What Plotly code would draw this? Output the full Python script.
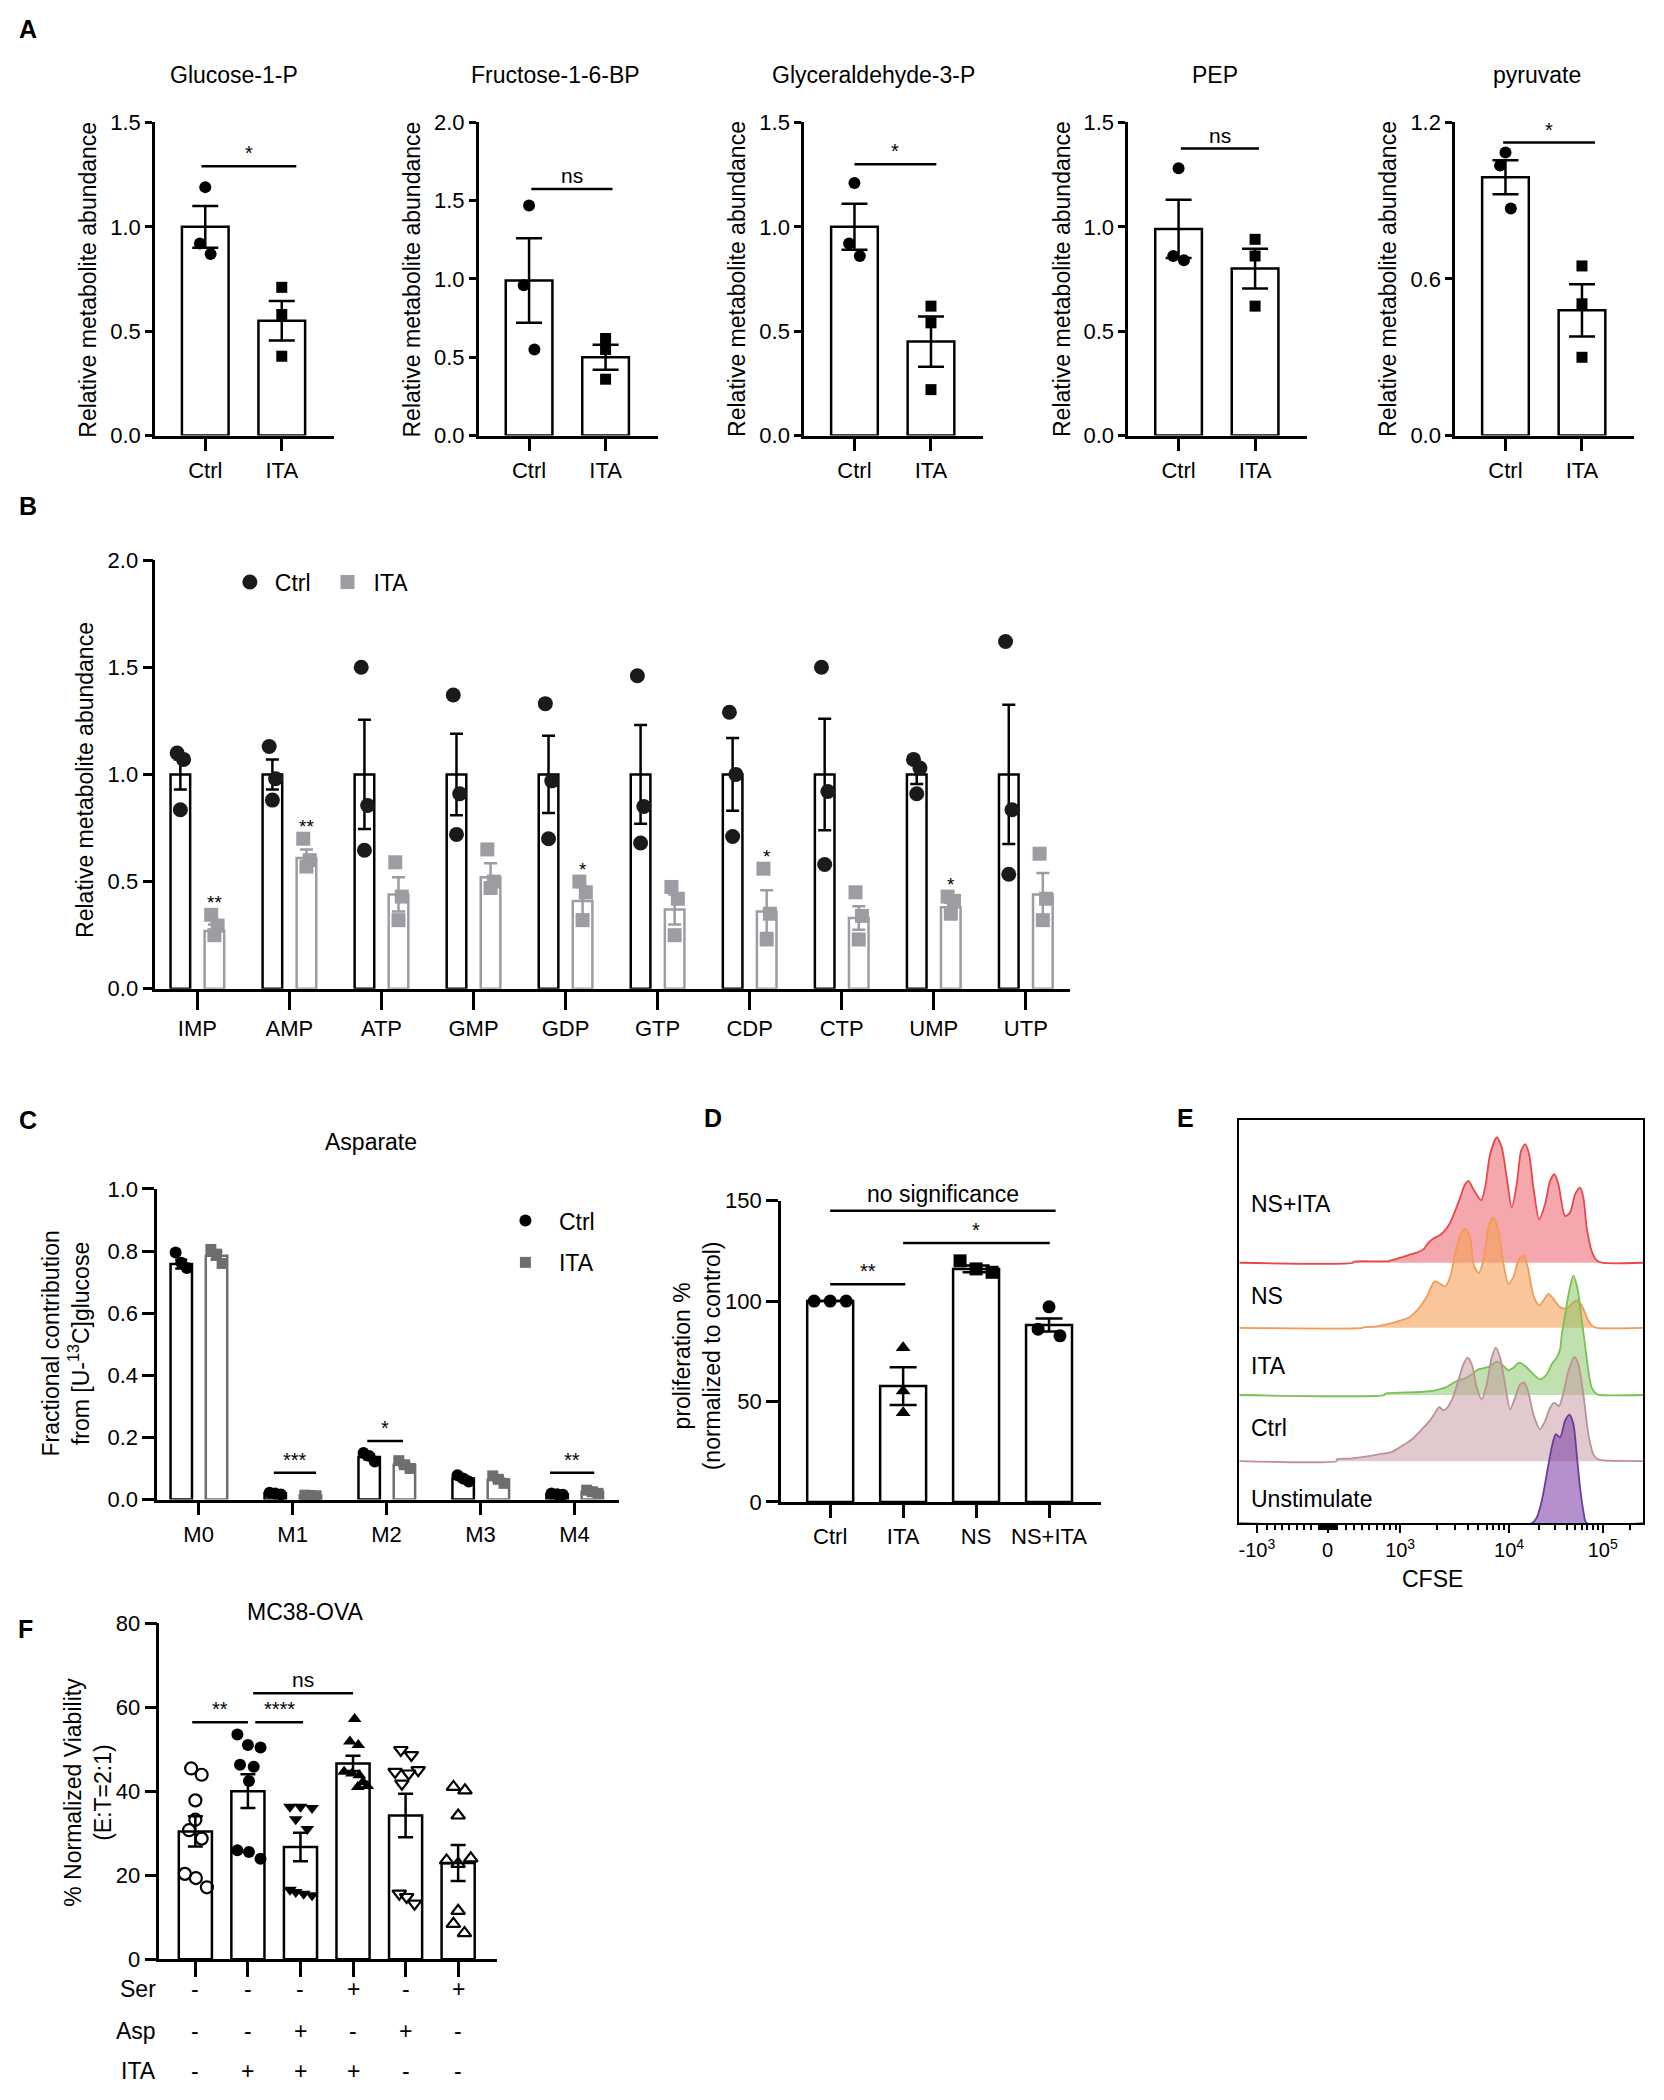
import plotly.graph_objects as go

# page is 1664x2100; browser body keeps its default 8px margin, so the figure is 1648x2084 at (8,8)
PW, PH = 1664, 2100
OFF = 8
W, H = PW - 2 * OFF, PH - 2 * OFF
# vertical compensation for the capture (observed y = CAP_S * page y + CAP_B)
CAP_S, CAP_B = 0.986, 13.9
FONT = "Arial, 'Liberation Sans', Helvetica, sans-serif"
BLACK = "black"

# ---------------- Panel A data ----------------
A_titles = ["Glucose-1-P", "Fructose-1-6-BP", "Glyceraldehyde-3-P", "PEP", "pyruvate"]
A_groups = ["Ctrl", "ITA"]
A_ctrl_mean = [1.00, 0.99, 1.00, 0.99, 0.99]
A_ctrl_sem = [0.10, 0.27, 0.11, 0.14, 0.065]
A_ita_mean = [0.55, 0.50, 0.45, 0.80, 0.48]
A_ita_sem = [0.095, 0.08, 0.12, 0.095, 0.10]
A_ctrl_pts = [[1.19, 0.92, 0.87], [1.47, 0.96, 0.55], [1.21, 0.92, 0.86], [1.28, 0.86, 0.84], [1.085, 1.035, 0.87]]
A_ita_pts = [[0.71, 0.58, 0.38], [0.62, 0.55, 0.36], [0.62, 0.54, 0.22], [0.94, 0.86, 0.62], [0.65, 0.505, 0.30]]
A_ymax = [1.5, 2.0, 1.5, 1.5, 1.2]
A_dtick = [0.5, 0.5, 0.5, 0.5, 0.6]
A_sig_text = ["*", "ns", "*", "ns", "*"]
A_sig_y = [1.29, 1.575, 1.30, 1.375, 1.123]
A_sig_x0 = [-0.05, 0.03, 0.0, 0.03, -0.03]
A_sig_x1 = [1.19, 1.09, 1.07, 1.05, 1.17]

# ---------------- Panel B data ----------------
B_cats = ["IMP", "AMP", "ATP", "GMP", "GDP", "GTP", "CDP", "CTP", "UMP", "UTP"]
B_ctrl_mean = [1.0, 1.0, 1.0, 1.0, 1.0, 1.0, 1.0, 1.0, 1.0, 1.0]
B_ctrl_sem = [0.07, 0.07, 0.255, 0.19, 0.18, 0.23, 0.17, 0.26, 0.045, 0.325]
B_ctrl_pts = [[1.10, 1.07, 0.835], [1.13, 0.98, 0.88], [1.50, 0.855, 0.646], [1.37, 0.91, 0.72],
              [1.33, 0.97, 0.70], [1.46, 0.85, 0.68], [1.29, 1.00, 0.71], [1.50, 0.92, 0.58],
              [1.07, 1.03, 0.91], [1.62, 0.835, 0.534]]
B_ita_mean = [0.27, 0.61, 0.44, 0.52, 0.41, 0.37, 0.36, 0.33, 0.38, 0.44]
B_ita_sem = [0.03, 0.04, 0.08, 0.065, 0.065, 0.07, 0.10, 0.055, 0.02, 0.10]
B_ita_pts = [[0.345, 0.295, 0.25], [0.70, 0.60, 0.57], [0.59, 0.43, 0.32], [0.65, 0.50, 0.47],
             [0.50, 0.45, 0.32], [0.475, 0.42, 0.25], [0.56, 0.35, 0.23], [0.45, 0.34, 0.23],
             [0.43, 0.41, 0.35], [0.63, 0.42, 0.32]]
B_sig = ["**", "**", "", "", "*", "", "*", "", "*", ""]

# ---------------- Panel C data ----------------
C_title = "Asparate"
C_cats = ["M0", "M1", "M2", "M3", "M4"]
C_ctrl_mean = [0.758, 0.019, 0.137, 0.068, 0.017]
C_ctrl_sem = [0.014, 0.002, 0.008, 0.006, 0.001]
C_ctrl_pts = [[0.795, 0.762, 0.745], [0.022, 0.019, 0.016], [0.150, 0.140, 0.122],
              [0.078, 0.068, 0.058], [0.019, 0.017, 0.015]]
C_ita_mean = [0.785, 0.013, 0.112, 0.064, 0.025]
C_ita_sem = [0.013, 0.001, 0.007, 0.007, 0.003]
C_ita_pts = [[0.805, 0.790, 0.760], [0.014, 0.013, 0.012], [0.125, 0.112, 0.100],
             [0.076, 0.065, 0.052], [0.030, 0.025, 0.020]]
C_sig_cat = [1, 2, 4]
C_sig_text = ["***", "*", "**"]
C_sig_y = [0.086, 0.188, 0.086]
C_sig_dx0 = [-0.20, -0.205, -0.26]
C_sig_dx1 = [0.25, 0.175, 0.21]

# ---------------- Panel D data ----------------
D_cats = ["Ctrl", "ITA", "NS", "NS+ITA"]
D_mean = [100.0, 57.7, 116.0, 88.1]
D_sem = [0.0, 9.4, 1.7, 3.2]
D_pts = [[100, 100, 100], [76.8, 55.2, 44.4], [120.0, 116.0, 114.3], [97.1, 86.0, 82.7]]
D_symbols = ["circle", "triangle-up", "square", "circle"]
D_jit = [[-0.22, 0.0, 0.22], [0.0, 0.0, 0.0], [-0.22, 0.0, 0.22], [0.0, -0.15, 0.15]]
D_sig_x0 = [0.0, 1.0, 0.0]
D_sig_x1 = [3.09, 3.01, 1.03]
D_sig_y = [145.0, 128.9, 108.4]
D_sig_text = ["no significance", "*", "**"]

# ---------------- Panel E data (flow histograms, display channel 0-1000) ----------------
E_labels = ["NS+ITA", "NS", "ITA", "Ctrl", "Unstimulate"]
E_base = [260, 195, 128, 62, 0]
E_ch_nsita = [0, 282, 283, 369.6, 398.5, 419.1, 439.8, 456.3, 468.6, 481, 497.5, 511.6, 522.3, 534.7, 547,
              559.4, 567.7, 580, 599, 608.9, 621.3, 637.8, 650.2, 662.5, 674.9, 687.3, 698, 707.9, 717.8,
              728.5, 742.6, 757.4, 769.8, 780.5, 790.4, 806.9, 819.3, 831.7, 844.1, 852.3, 860.6, 872.9,
              885.3, 897.7, 1000]
E_h_nsita = [0, 0, 1, 1.7, 5, 7.7, 10, 13.3, 20, 24.3, 27.7, 33.3, 40, 51.7, 65, 78.3, 81.7, 73.3, 62.3, 75,
             108.3, 125, 115, 85, 55, 78.3, 111.7, 118.3, 108.3, 75, 43.3, 58.3, 81.7, 88.3, 78.3, 46.7,
             50, 68.3, 75, 65, 35, 11.7, 2.3, 0, 0]
E_ch_ns = [0, 306, 307, 336.6, 369.6, 394.4, 419.1, 439.8, 456.3, 468.6, 476.9, 485.1, 497.5, 509.9, 522.3,
           534.7, 547, 559.4, 571.8, 580, 592.4, 604.8, 617.2, 629.5, 641.9, 654.3, 666.7, 679, 691.4,
           703.8, 714.5, 728.5, 742.6, 753.3, 765.7, 778, 794.6, 811, 823.4, 835.8, 848.2, 860.6, 872.9,
           885.3, 1000]
E_h_ns = [0, 0, 0.5, 1.3, 4, 6.7, 10, 17.3, 25.7, 34.7, 42.3, 46.7, 44, 41.3, 50.7, 74, 92.3, 99, 90.7,
          64, 54.7, 67.3, 100.7, 110, 97.3, 64, 44, 50.7, 67.3, 72.3, 60.7, 32.3, 22.3, 27.3, 34, 29,
          20.7, 19, 24, 27.3, 22.3, 10.7, 2.3, 0, 0]
E_ch_ita = [0, 360, 361.4, 448, 485.1, 509.9, 526.4, 542.9, 559.4, 575.9, 592.4, 617.2, 637.8, 650.2,
            666.7, 679, 693.1, 707.9, 724.4, 745, 761.6, 773.9, 786.3, 794.6, 798.7, 806.9, 817.7, 827.6,
            838.3, 848.2, 856.4, 864.7, 872.9, 885.3, 893.6, 1000]
E_h_ita = [0, 0, 1.3, 3, 4.7, 7.3, 11.3, 14.7, 16.7, 20.7, 25.7, 28, 33.3, 30.7, 24.7, 27.3, 32.3, 29,
           22.3, 15.7, 20.7, 30.7, 37.3, 45.7, 60, 80, 105, 119, 105, 75, 50, 24, 7.3, 1, 0, 0]
E_ch_ctrl = [0, 241, 241.7, 278.9, 344.9, 378.3, 402.6, 427.4, 452.1, 472.8, 485.1, 495, 505.8, 518.2,
             530.5, 542.9, 555.3, 565.2, 575.9, 588.3, 600.7, 613, 625.4, 635.3, 646, 658.4, 670.8,
             683.2, 695.5, 706.3, 716.2, 728.5, 745, 757.4, 769.8, 780.5, 792.1, 802.8, 815.2, 830,
             839.9, 852.3, 864.7, 877, 889.4, 901.8, 1000]
E_h_ctrl = [0, 0, 1.7, 2.7, 6.7, 9.3, 15, 21.7, 31.7, 40.7, 48.3, 54, 50.7, 55, 65, 80.7, 96.7, 103.3,
            96.7, 73.3, 61.7, 76.7, 103.3, 113.3, 103.3, 76.7, 51.7, 63.3, 76.7, 78.3, 68.3, 46.7, 31.7,
            40, 53.3, 58.3, 55, 68.3, 90, 104, 96.7, 66.7, 26.7, 6.7, 1.7, 0.7, 0]
E_ch_unst = [0, 724.4, 736.8, 749.2, 761.6, 773.9, 783.8, 794.6, 806.9, 817.7, 827.6, 835.8, 844.1,
             852.3, 860.6, 1000]
E_h_unst = [0, 0, 5.7, 22.3, 49, 75.7, 89, 85.7, 102.3, 108.3, 99, 69, 35.7, 12.3, 0, 0]
E_major = [43.7, 218.6, 398.5, 668.3, 900.2]
E_major_text = ["-10<sup>3</sup>", "0", "10<sup>3</sup>", "10<sup>4</sup>", "10<sup>5</sup>"]
E_minor = [68.5, 89.1, 105.6, 123.8, 142.7, 160.9, 177.4, 196.4, 200, 204.6, 208, 212.9, 216, 221,
           225.2, 229, 233.5, 237, 241.7, 264.9, 284.7, 303.6, 321.8, 340.8, 357.3, 373.8, 387.8, 489.3,
           534.7, 567.7, 592.4, 613, 629.5, 644.4, 656.8, 742.6, 782.2, 811, 831.7, 848.2, 862.2,
           875.4, 887.8, 967.8]
E_line = ["#e8474c", "#f39a56", "#79c24f", "#bf8f97", "#6f3a9a"]
E_fill = ["rgba(235,95,105,0.55)", "rgba(245,160,90,0.6)", "rgba(130,195,95,0.5)",
          "rgba(195,150,158,0.5)", "rgba(130,70,170,0.6)"]

# ---------------- Panel F data ----------------
F_title = "MC38-OVA"
F_mean = [30.4, 40.0, 26.7, 46.6, 34.2, 22.9]
F_sem = [3.6, 4.0, 3.4, 1.8, 5.2, 4.3]
F_pts = [[45.4, 43.9, 37.8, 33.2, 30.7, 28.7, 20.3, 19.3, 17.1],
         [53.5, 51.0, 50.4, 46.3, 45.8, 42.4, 25.9, 25.5, 23.9],
         [36.3, 36.3, 36.0, 33.3, 31.0, 16.5, 16.0, 15.6, 15.2],
         [57.2, 51.8, 51.0, 44.6, 44.2, 43.8, 42.2, 41.2, 41.0],
         [49.8, 48.6, 45.0, 44.6, 44.2, 41.8, 15.6, 14.8, 13.2],
         [41.0, 40.2, 34.2, 24.0, 23.5, 22.7, 11.5, 8.4, 6.2]]
F_jit = [[-0.08, 0.12, 0.0, 0.0, -0.12, 0.12, -0.2, 0.01, 0.22],
         [-0.2, 0.0, 0.24, -0.15, 0.11, 0.02, -0.2, 0.02, 0.24],
         [-0.2, 0.0, 0.22, -0.09, 0.13, -0.2, -0.09, 0.06, 0.22],
         [0.03, -0.06, 0.1, -0.17, -0.02, 0.12, 0.19, 0.27, 0.09],
         [-0.09, 0.11, 0.24, -0.2, 0.06, -0.07, -0.12, 0.02, 0.17],
         [-0.09, 0.13, 0.0, 0.24, -0.22, 0.0, 0.0, -0.09, 0.12]]
F_symbols = ["circle-open", "circle", "triangle-down", "triangle-up", "triangle-down-open", "triangle-up-open"]
F_row_names = ["Ser", "Asp", "ITA"]
F_ser = ["-", "-", "-", "+", "-", "+"]
F_asp = ["-", "-", "+", "-", "+", "-"]
F_ita = ["-", "+", "+", "+", "-", "-"]
F_sig_x0 = [-0.06, 1.14, 1.1]
F_sig_x1 = [1.0, 2.05, 3.0]
F_sig_y = [56.4, 56.4, 63.3]
F_sig_text = ["**", "****", "ns"]

# =====================================================================
fig = go.Figure()
axes = {}
annotations = []
shapes = []


def px_x(p):
    return (p - OFF) / W


def px_y(p):
    page = (p - CAP_B) / CAP_S
    return 1 - (page - OFF) / H


def ref(n):
    return ("x" if n == 1 else f"x{n}"), ("y" if n == 1 else f"y{n}")


def make_axes(n, xl, xr, yt, yb, xrange, yrange, xkw=None, ykw=None):
    xs, ys = ref(n)
    base = dict(showline=True, linecolor=BLACK, linewidth=2.5, ticks="outside", tickcolor=BLACK,
                tickwidth=2.5, showgrid=False, zeroline=False,
                tickfont=dict(family=FONT, size=22, color=BLACK), fixedrange=True)
    xd = dict(base, domain=[px_x(xl), px_x(xr)], anchor=ys, range=xrange)
    yd = dict(base, domain=[px_y(yb), px_y(yt)], anchor=xs, range=yrange)
    if xkw:
        xd.update(xkw)
    if ykw:
        yd.update(ykw)
    axes["xaxis" + ("" if n == 1 else str(n))] = xd
    axes["yaxis" + ("" if n == 1 else str(n))] = yd
    return xs, ys


def note(x, y, s, size=22, xref="paper", yref="paper", xanchor="center", yanchor="middle", angle=0, yshift=0):
    if xref == "paper":
        x = px_x(x)
    if yref == "paper":
        y = px_y(y)
    annotations.append(dict(x=x, y=y, xref=xref, yref=yref, text=s, showarrow=False, xanchor=xanchor,
                            yanchor=yanchor, textangle=angle, yshift=yshift,
                            font=dict(family=FONT, size=size, color=BLACK)))


def sig(xs, ys, x0, x1, y, label, size=20, yshift=0):
    shapes.append(dict(type="line", xref=xs, yref=ys, x0=x0, x1=x1, y0=y, y1=y,
                       line=dict(color=BLACK, width=2.5)))
    note((x0 + x1) / 2, y, label, size=size, xref=xs, yref=ys, yanchor="bottom", yshift=yshift)


def bar(xs, ys, x, y, err, width, outline, capw):
    fig.add_trace(go.Bar(x=x, y=y, width=width, xaxis=xs, yaxis=ys, showlegend=False,
                         marker=dict(color="white", line=dict(color=outline, width=2.5)),
                         error_y=dict(type="data", array=err, color=outline, thickness=2.5, width=capw)))


def pts(xs, ys, x, y, symbol, size, color, name="", legend=None, lw=0):
    kw = dict(showlegend=False)
    if legend:
        kw = dict(showlegend=True, legend=legend, name=name)
    fig.add_trace(go.Scatter(x=x, y=y, mode="markers", xaxis=xs, yaxis=ys, cliponaxis=False,
                             marker=dict(symbol=symbol, size=size, color=color,
                                         line=dict(width=lw, color=color)), **kw))


# ---------------- Panel A ----------------
A_axis_px = [154.0, 478.0, 803.6, 1127.9, 1455.0]
A_title_px = [233, 554.5, 873, 1215, 1537]
A_jit = [0.0, -0.07, 0.07]
for k in range(5):
    xs, ys = make_axes(k + 1, A_axis_px[k], A_axis_px[k] + 179, 124, 436.5, [-0.658, 1.68], [0, A_ymax[k]],
                       xkw=dict(tickvals=[0, 1], ticktext=A_groups, ticklen=13),
                       ykw=dict(tick0=0, dtick=A_dtick[k], tickformat=".1f", ticklen=7))
    bar(xs, ys, [0, 1], [A_ctrl_mean[k], A_ita_mean[k]], [A_ctrl_sem[k], A_ita_sem[k]], 0.61, BLACK, 13)
    pts(xs, ys, [0 + j for j in A_jit], A_ctrl_pts[k], "circle", 12, BLACK)
    pts(xs, ys, [1, 1, 1], A_ita_pts[k], "square", 11, BLACK)
    sig(xs, ys, A_sig_x0[k], A_sig_x1[k], A_sig_y[k], A_sig_text[k],
        size=20 if A_sig_text[k] == "*" else 21)
    note(A_title_px[k], 76.7, A_titles[k], size=23)
    note(A_axis_px[k] - 66.5, 280.5, "Relative metabolite abundance", size=23, angle=-90)

# ---------------- Panel B ----------------
xs, ys = make_axes(6, 154.4, 1070, 560.7, 988.6, [-0.457, 9.484], [0, 2.0],
                   xkw=dict(tickvals=list(range(len(B_cats))), ticktext=B_cats, ticklen=18),
                   ykw=dict(tick0=0, dtick=0.5, tickformat=".1f", ticklen=10))
B_off = 0.185
B_grey = "#9c9ca2"
n = len(B_cats)
bar(xs, ys, [i - B_off for i in range(n)], B_ctrl_mean, B_ctrl_sem, 0.213, BLACK, 6.5)
bar(xs, ys, [i + B_off for i in range(n)], B_ita_mean, B_ita_sem, 0.213, B_grey, 6.5)
B_jit = [-0.035, 0.035, 0.0]
pts(xs, ys, [i - B_off + B_jit[j] for i in range(n) for j in range(3)],
    [B_ctrl_pts[i][j] for i in range(n) for j in range(3)], "circle", 15, "#1a1a1a", "Ctrl", "legend")
pts(xs, ys, [i + B_off + B_jit[j] for i in range(n) for j in range(3)],
    [B_ita_pts[i][j] for i in range(n) for j in range(3)], "square", 14, B_grey, "ITA", "legend2")
for i in range(n):
    if B_sig[i]:
        note(i + B_off, max(B_ita_pts[i]), B_sig[i], size=19, xref=xs, yref=ys, yanchor="bottom")
note(84.2, 780, "Relative metabolite abundance", size=23, angle=-90)

# ---------------- Panel C ----------------
xs, ys = make_axes(7, 156.3, 618.3, 1188.3, 1498.3, [-0.441, 4.473], [0, 1.0],
                   xkw=dict(tickvals=list(range(len(C_cats))), ticktext=C_cats, ticklen=13),
                   ykw=dict(tick0=0, dtick=0.2, tickformat=".1f", ticklen=12))
C_grey = "#6e6e6e"
m = len(C_cats)
bar(xs, ys, [i - 0.185 for i in range(m)], C_ctrl_mean, C_ctrl_sem, 0.228, BLACK, 6)
bar(xs, ys, [i + 0.19 for i in range(m)], C_ita_mean, C_ita_sem, 0.228, C_grey, 6)
C_jit = [-0.06, 0.0, 0.06]
pts(xs, ys, [i - 0.185 + C_jit[j] for i in range(m) for j in range(3)],
    [C_ctrl_pts[i][j] for i in range(m) for j in range(3)], "circle", 12, BLACK, "Ctrl", "legend3")
pts(xs, ys, [i + 0.19 + C_jit[j] for i in range(m) for j in range(3)],
    [C_ita_pts[i][j] for i in range(m) for j in range(3)], "square", 11, C_grey, "ITA", "legend4")
for c, t, y, d0, d1 in zip(C_sig_cat, C_sig_text, C_sig_y, C_sig_dx0, C_sig_dx1):
    sig(xs, ys, c + d0, c + d1, y, t, size=20)
note(370.5, 1141.7, C_title, size=23)
note(64.7, 1343, "Fractional contribution<br>from [U-<sup>13</sup>C]glucose", size=23, angle=-90)

# ---------------- Panel D ----------------
xs, ys = make_axes(8, 780.4, 1100.5, 1200, 1500.7, [-0.675, 3.71], [0, 150],
                   xkw=dict(tickvals=list(range(len(D_cats))), ticktext=D_cats, ticklen=13),
                   ykw=dict(tick0=0, dtick=50, ticklen=12))
bar(xs, ys, list(range(len(D_cats))), D_mean, D_sem, 0.63, BLACK, 13.5)
for i in range(len(D_cats)):
    pts(xs, ys, [i + j for j in D_jit[i]], D_pts[i], D_symbols[i], 13, BLACK)
for x0, x1, y, t in zip(D_sig_x0, D_sig_x1, D_sig_y, D_sig_text):
    sig(xs, ys, x0, x1, y, t, size=23 if len(t) > 3 else 20, yshift=2 if len(t) > 3 else 0)
note(696.8, 1355, "proliferation %<br>(normalized to control)", size=23, angle=-90)

# ---------------- Panel E ----------------
xs, ys = make_axes(9, 1239, 1643, 1120, 1522, [0, 1000], [0, 402],
                   xkw=dict(tickmode="array", tickvals=E_major, ticktext=E_major_text, ticklen=8, tickwidth=2,
                            linewidth=2, mirror=True, tickfont=dict(family=FONT, size=20, color=BLACK),
                            minor=dict(tickmode="array", tickvals=E_minor, ticklen=5, tickwidth=1.5,
                                       tickcolor=BLACK, ticks="outside")),
                   ykw=dict(showticklabels=False, ticks="", linewidth=2, mirror=True))
E_ch = [E_ch_nsita, E_ch_ns, E_ch_ita, E_ch_ctrl, E_ch_unst]
E_h = [E_h_nsita, E_h_ns, E_h_ita, E_h_ctrl, E_h_unst]
for k in range(5):
    fig.add_trace(go.Scatter(x=E_ch[k], y=[E_base[k] + h for h in E_h[k]], mode="lines", fill="toself",
                             fillcolor=E_fill[k], line=dict(color=E_line[k], width=1.8, shape="spline",
                                                            smoothing=0.7),
                             xaxis=xs, yaxis=ys, showlegend=False, hoverinfo="skip"))
E_label_px = [1203, 1295, 1365, 1427, 1498]
for lab, py in zip(E_labels, E_label_px):
    note(1249, py, lab, size=23, xanchor="left")
note(1432.5, 1578, "CFSE", size=23)

# ---------------- Panel F ----------------
xs, ys = make_axes(10, 158.5, 496.7, 1621.7, 1957, [-0.684, 5.747], [0, 80],
                   xkw=dict(tickvals=list(range(6)), showticklabels=False, ticklen=15),
                   ykw=dict(tick0=0, dtick=20, ticklen=12))
bar(xs, ys, list(range(6)), F_mean, F_sem, 0.63, BLACK, 7.5)
for i in range(6):
    open_ = F_symbols[i].endswith("open")
    pts(xs, ys, [i + j for j in F_jit[i]], F_pts[i], F_symbols[i], 12, BLACK, lw=2.2 if open_ else 0)
for x0, x1, y, t in zip(F_sig_x0, F_sig_x1, F_sig_y, F_sig_text):
    sig(xs, ys, x0, x1, y, t, size=21 if t == "ns" else 20)
note(305, 1610.5, F_title, size=23)
note(87, 1790, "% Normalized Viability<br>(E:T=2:1)", size=23, angle=-90)
F_row_px = [1987, 2029, 2069]
for name, row, py in zip(F_row_names, [F_ser, F_asp, F_ita], F_row_px):
    note(157, py, name, size=23, xanchor="right")
    for i, s in enumerate(row):
        annotations.append(dict(x=i, y=px_y(py), xref=xs, yref="paper", text=s, showarrow=False,
                                xanchor="center", yanchor="middle",
                                font=dict(family=FONT, size=23, color=BLACK)))

# ---------------- panel letters ----------------
for lab, x, y in [("A", 26.7, 30.5), ("B", 26.7, 507), ("C", 26.8, 1120), ("D", 712.5, 1118),
                  ("E", 1185, 1118), ("F", 24.5, 1628)]:
    note(x, y, "<b>%s</b>" % lab, size=25)

leg = dict(xanchor="left", yanchor="middle", bgcolor="rgba(0,0,0,0)", borderwidth=0,
           font=dict(family=FONT, size=23, color=BLACK))
fig.update_layout(
    width=W, height=H, margin=dict(l=0, r=0, t=0, b=0), paper_bgcolor="white", plot_bgcolor="white",
    barmode="overlay", font=dict(family=FONT, size=22, color=BLACK),
    annotations=annotations, shapes=shapes,
    legend=dict(leg, x=px_x(224), y=px_y(582.7), itemwidth=40),
    legend2=dict(leg, x=px_x(320.7), y=px_y(582.7), itemwidth=42),
    legend3=dict(leg, x=px_x(491.2), y=px_y(1220), itemwidth=57),
    legend4=dict(leg, x=px_x(491.2), y=px_y(1261.7), itemwidth=57),
    **axes,
)

fig.write_html("out.html", config={"displayModeBar": False})
